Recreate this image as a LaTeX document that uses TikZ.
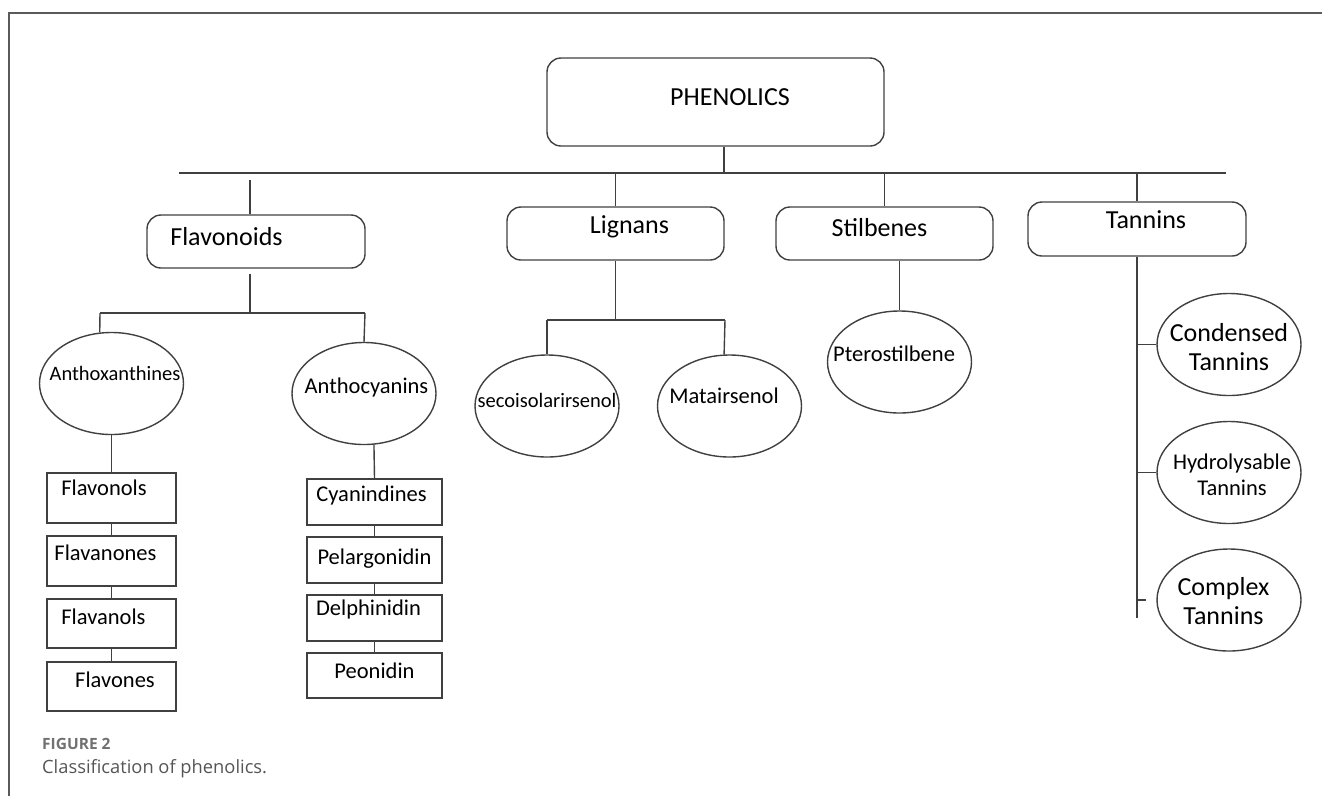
\documentclass[tikz,border=0pt]{standalone}
\usepackage{fontspec}
\setmainfont{Carlito}
\newfontfamily\capfont{Open Sans}
\usetikzlibrary{shapes.geometric,positioning}
\definecolor{linegray}{RGB}{64,64,64}
\definecolor{framegray}{RGB}{90,90,90}
\definecolor{capgray}{RGB}{85,85,85}
\definecolor{figgray}{RGB}{112,112,112}
\tikzset{conn/.style={draw=linegray, line width=1.4pt}}
\tikzset{rbox/.style={draw=linegray, line width=1.4pt, rectangle, rounded corners=14pt, inner sep=0pt}}
\tikzset{sbox/.style={draw=linegray, line width=1.4pt, rectangle, inner sep=0pt}}
\tikzset{oval/.style={draw=linegray, line width=1.4pt, ellipse, inner sep=0pt, minimum width=144pt, minimum height=102pt}}
\tikzset{big/.style={font=\fontsize{26}{30}\selectfont, inner sep=0pt, text height=0.66em, text depth=0pt}}
\tikzset{mid/.style={font=\fontsize{22.5}{26}\selectfont, inner sep=0pt, text height=0.66em, text depth=0pt}}
\tikzset{tiny/.style={font=\fontsize{20.5}{24}\selectfont, inner sep=0pt, text height=0.66em, text depth=0pt}}
\tikzset{bigtwo/.style={font=\fontsize{26}{29}\selectfont, inner sep=0pt, align=center}}
\tikzset{midtwo/.style={font=\fontsize{22.5}{26}\selectfont, inner sep=0pt, align=center}}

\begin{document}
\begin{tikzpicture}[x=1pt, y=-1pt]
    \useasboundingbox (0,0) rectangle (1322,796);
    \draw[framegray, line width=1.2pt] (9,796) -- (9,13) -- (1322,13);

    \node[rbox, minimum width=337pt, minimum height=88pt, label={[big, xshift=14.5pt]center:PHENOLICS}] (phen) at (715.5,102) {};
    \coordinate (busL) at (178.5,173);
    \coordinate (busR) at (1226,173);

    \node[rbox, minimum width=218pt, minimum height=53pt, label={[big, xshift=-29.5pt, yshift=-1pt]center:Flavonoids}] (flav) at (256,241.5) {};
    \node[rbox, minimum width=217pt, minimum height=53pt, label={[big, xshift=14pt, yshift=3pt]center:Lignans}] (lign) at (615.5,233.5) {};
    \node[rbox, minimum width=217pt, minimum height=53pt, label={[big, xshift=-5pt]center:Stilbenes}] (stil) at (884.5,233.5) {};
    \node[rbox, minimum width=218pt, minimum height=54pt, label={[big, xshift=9pt, yshift=4pt]center:Tannins}] (tann) at (1137,229) {};

    \node[oval, label={[tiny, xshift=3.5pt, yshift=6.5pt]center:Anthoxanthines}] (anthox) at (111.5,383.5) {};
    \node[oval, label={[mid, xshift=2.5pt, yshift=3.5pt]center:Anthocyanins}] (anthocy) at (364,393.5) {};
    \node[oval, label={[tiny, yshift=2pt]center:secoisolarirsenol}] (seco) at (547,406) {};
    \node[oval, label={[mid, xshift=-5.5pt, yshift=6pt]center:Matairsenol}] (matai) at (729.5,406) {};
    \node[oval, label={[mid, xshift=-5.5pt, yshift=4pt]center:Pterostilbene}] (pter) at (899.5,362) {};
    \node[oval, label={[bigtwo, yshift=-3pt]center:Condensed\\Tannins}] (cond) at (1229,344.5) {};
    \node[oval, label={[midtwo, xshift=3pt, yshift=-2.5pt]center:Hydrolysable\\Tannins}] (hydro) at (1229,472.5) {};
    \node[oval, label={[bigtwo, xshift=-5.5pt, yshift=-1.5pt]center:Complex\\Tannins}] (compl) at (1229,600) {};

    \node[sbox, minimum width=129pt, minimum height=50pt, label={[mid, xshift=-7.5pt, yshift=6pt]center:Flavonols}] (flvnl) at (111.5,498) {};
    \node[sbox, minimum width=129pt, minimum height=50pt, label={[mid, xshift=-6pt, yshift=4pt]center:Flavanones}] (flvnn) at (111.5,561) {};
    \node[sbox, minimum width=129pt, minimum height=49pt, label={[mid, xshift=-8pt, yshift=2.5pt]center:Flavanols}] (flvnls) at (111.5,623.5) {};
    \node[sbox, minimum width=129pt, minimum height=49pt, label={[mid, xshift=3.5pt, yshift=2.5pt]center:Flavones}] (flvns) at (111.5,686.5) {};

    \node[sbox, minimum width=135pt, minimum height=46pt, label={[mid, xshift=-3pt, yshift=4pt]center:Cyanindines}] (cyan) at (374.5,502) {};
    \node[sbox, minimum width=135pt, minimum height=46pt, label={[mid, yshift=-1pt]center:Pelargonidin}] (pelar) at (374.5,560) {};
    \node[sbox, minimum width=135pt, minimum height=46pt, label={[mid, xshift=-6pt, yshift=6pt]center:Delphinidin}] (delph) at (374.5,618) {};
    \node[sbox, minimum width=135pt, minimum height=45pt, label={[mid]center:Peonidin}] (peon) at (374.5,675.5) {};

    \coordinate (phenS) at ([xshift=8.5pt]phen.south);
    \draw[conn] (phenS) -- (phenS |- busL);
    \draw[conn] (busL) -- (busR);
    \coordinate (flavN) at ([xshift=-6pt]flav.north);
    \draw[conn] (flavN) -- ++(0,-34);
    \draw[conn] (lign.north) -- (lign.north |- busL);
    \draw[conn] (stil.north) -- (stil.north |- busL);
    \draw[conn] (tann.north) -- (tann.north |- busL);

    \coordinate (fbarL) at (100,313);
    \coordinate (fbarR) at (365,313);
    \coordinate (flavS) at ([xshift=-6pt, yshift=-5pt]flav.south);
    \draw[conn] (flavS) -- (flavS |- fbarL);
    \draw[conn] (fbarL) -- (fbarR);
    \draw[conn] (fbarL) -- (anthox.103);
    \draw[conn] (fbarR) -- (anthocy.north);

    \draw[conn] (anthox.south) -- (flvnl.north);
    \draw[conn] (flvnl.south) -- (flvnn.north);
    \draw[conn] (flvnn.south) -- (flvnls.north);
    \draw[conn] (flvnls.south) -- (flvns.north);

    \draw[conn] (anthocy.-79) -- (cyan.north);
    \draw[conn] (cyan.south) -- (pelar.north);
    \draw[conn] (pelar.south) -- (delph.north);
    \draw[conn] (delph.south) -- (peon.north);

    \coordinate (lbarL) at (547,320);
    \coordinate (lbarR) at (725,320);
    \draw[conn] (lign.south) -- (lign.south |- lbarL);
    \draw[conn] (lbarL) -- (lbarR);
    \draw[conn] (lbarL) -- (seco.north);
    \draw[conn] (lbarR) -- (matai.96);

    \draw[conn] (pter.north) -- (pter.north |- stil.south);

    \coordinate (tend) at (1137,618);
    \draw[conn] (tann.south) -- (tend);
    \draw[conn] (tann.south |- cond.west) -- (cond.west);
    \draw[conn] (tann.south |- hydro.west) -- (hydro.west);
    \draw[conn] (tann.south |- compl.west) -- ++(9,0);

    \node[anchor=base west, inner sep=0pt, text=figgray, font=\capfont\bfseries\fontsize{15.5}{18}\selectfont] (fig) at (42,749) {FIGURE 2};
    \node[anchor=base west, inner sep=0pt, text=capgray, font=\capfont\fontsize{18.3}{22}\selectfont] (cap) at (42,773) {Classification of phenolics.};
\end{tikzpicture}
\end{document}
